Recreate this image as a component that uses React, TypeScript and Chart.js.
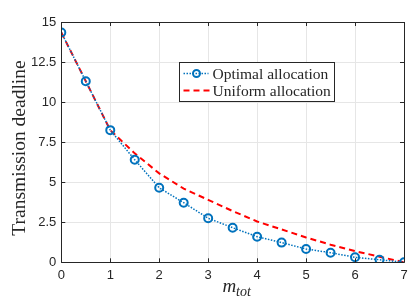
import React, { useEffect, useRef } from "react";
import { Chart, registerables } from "chart.js";

Chart.register(...registerables);

const xValues = [0, 0.5, 1, 1.5, 2, 2.5, 3, 3.5, 4, 4.5, 5, 5.5, 6, 6.5, 7];
const optimal = [14.35, 11.3, 8.25, 6.4, 4.65, 3.72, 2.75, 2.16, 1.6, 1.23, 0.83, 0.6, 0.31, 0.16, 0];
const uniform = [14.35, 11.3, 8.25, 6.8, 5.55, 4.6, 3.9, 3.2, 2.55, 2.05, 1.55, 1.1, 0.7, 0.35, 0];
const xTicks = [0, 1, 2, 3, 4, 5, 6, 7];
const yTicks = [0, 2.5, 5, 7.5, 10, 12.5, 15];
const seriesNames = ["Optimal allocation", "Uniform allocation"];
const yTitle = "Transmission deadline";
const xTitleMain = "m";
const xTitleSub = "tot";

const BLUE = "#0072BD";
const RED = "#FF0000";
const SERIF = "'Liberation Serif', 'DejaVu Serif', serif";
const SANS = "'Liberation Sans', Arial, sans-serif";

const decorPlugin = {
  id: "decor",
  afterDraw(chart: any) {
    const ctx = chart.ctx;
    const a = chart.chartArea;
    const xs = chart.scales.x;
    const ys = chart.scales.y;
    ctx.save();
    // box
    ctx.strokeStyle = "#262626";
    ctx.lineWidth = 1;
    ctx.beginPath();
    ctx.rect(Math.round(a.left) + 0.5, Math.round(a.top) + 0.5, Math.round(a.right - a.left), Math.round(a.bottom - a.top));
    ctx.stroke();
    // inward ticks
    ctx.beginPath();
    xTicks.forEach((t) => {
      const px = Math.round(xs.getPixelForValue(t)) + 0.5;
      ctx.moveTo(px, a.bottom);
      ctx.lineTo(px, a.bottom - 4);
      ctx.moveTo(px, a.top);
      ctx.lineTo(px, a.top + 4);
    });
    yTicks.forEach((t) => {
      const py = Math.round(ys.getPixelForValue(t)) + 0.5;
      ctx.moveTo(a.left, py);
      ctx.lineTo(a.left + 4, py);
      ctx.moveTo(a.right, py);
      ctx.lineTo(a.right - 4, py);
    });
    ctx.stroke();

    // y title
    ctx.fillStyle = "#262626";
    ctx.font = `19.5px ${SERIF}`;
    ctx.textAlign = "center";
    ctx.textBaseline = "alphabetic";
    ctx.save();
    ctx.translate(25, 148);
    ctx.rotate(-Math.PI / 2);
    ctx.fillText(yTitle, 0, 0);
    ctx.restore();

    // x title
    const cx = (a.left + a.right) / 2 + 4;
    ctx.font = `italic 19px ${SERIF}`;
    const mw = ctx.measureText(xTitleMain).width;
    ctx.font = `italic 14px ${SERIF}`;
    const sw = ctx.measureText(xTitleSub).width;
    const startX = cx - (mw + sw) / 2;
    ctx.textAlign = "left";
    ctx.textBaseline = "alphabetic";
    ctx.font = `italic 19px ${SERIF}`;
    ctx.fillText(xTitleMain, startX, 292);
    ctx.font = `italic 14px ${SERIF}`;
    ctx.fillText(xTitleSub, startX + mw, 296);

    // legend
    const lx = 179.5, ly = 62.5, lw = 155, lh = 39;
    ctx.fillStyle = "#ffffff";
    ctx.fillRect(lx, ly, lw, lh);
    ctx.strokeStyle = "#262626";
    ctx.lineWidth = 1;
    ctx.strokeRect(lx, ly, lw, lh);
    const rows = [ly + 11, ly + 28];
    // optimal sample
    ctx.strokeStyle = BLUE;
    ctx.lineWidth = 1.5;
    ctx.setLineDash([1.5, 1.5]);
    ctx.beginPath();
    ctx.moveTo(lx + 4, rows[0]);
    ctx.lineTo(lx + 29, rows[0]);
    ctx.stroke();
    ctx.setLineDash([]);
    ctx.lineWidth = 2;
    ctx.beginPath();
    ctx.arc(lx + 17, rows[0], 3.5, 0, Math.PI * 2);
    ctx.stroke();
    // uniform sample
    ctx.strokeStyle = RED;
    ctx.lineWidth = 2;
    ctx.setLineDash([6, 4]);
    ctx.beginPath();
    ctx.moveTo(lx + 4, rows[1]);
    ctx.lineTo(lx + 30, rows[1]);
    ctx.stroke();
    ctx.setLineDash([]);
    ctx.fillStyle = "#262626";
    ctx.font = `15.5px ${SERIF}`;
    ctx.textAlign = "left";
    ctx.textBaseline = "middle";
    ctx.fillText(seriesNames[0], lx + 33, rows[0] + 1);
    ctx.fillText(seriesNames[1], lx + 33, rows[1] + 1);
    ctx.restore();
  },
};

export default function App() {
  const ref = useRef<HTMLCanvasElement>(null);
  useEffect(() => {
    if (!ref.current) return;
    const chart = new Chart(ref.current, {
      type: "line",
      data: {
        datasets: [
          {
            label: seriesNames[1],
            data: xValues.map((x, i) => ({ x, y: uniform[i] })),
            borderColor: RED,
            borderWidth: 2,
            borderDash: [6, 4],
            pointRadius: 0,
            fill: false,
            order: 2,
          },
          {
            label: seriesNames[0],
            data: xValues.map((x, i) => ({ x, y: optimal[i] })),
            borderColor: BLUE,
            borderWidth: 1.5,
            borderDash: [1.5, 1.5],
            pointRadius: 4,
            pointBorderWidth: 2,
            pointBorderColor: BLUE,
            pointBackgroundColor: "rgba(0,0,0,0)",
            fill: false,
            order: 1,
          },
        ],
      },
      options: {
        animation: false,
        responsive: false,
        layout: { padding: { top: 22, right: 13, left: 0, bottom: 0 } },
        plugins: { legend: { display: false }, tooltip: { enabled: false } },
        scales: {
          x: {
            type: "linear",
            min: 0,
            max: 7,
            afterBuildTicks: (s: any) => {
              s.ticks = xTicks.map((v) => ({ value: v }));
            },
            afterFit: (s: any) => {
              s.height = 41.7;
            },
            grid: { color: "#e6e6e6", drawTicks: false },
            border: { display: false },
            ticks: {
              color: "#262626",
              font: { family: SANS, size: 13 },
              padding: 5,
              maxRotation: 0,
              callback: (v: any) => String(v),
            },
          },
          y: {
            type: "linear",
            min: 0,
            max: 15,
            afterBuildTicks: (s: any) => {
              s.ticks = yTicks.map((v) => ({ value: v }));
            },
            afterFit: (s: any) => {
              s.width = 61.3;
            },
            grid: { color: "#e6e6e6", drawTicks: false },
            border: { display: false },
            ticks: {
              color: "#262626",
              font: { family: SANS, size: 13 },
              padding: 5,
              callback: (v: any) => String(v),
            },
          },
        },
      },
      plugins: [decorPlugin],
    });
    return () => chart.destroy();
  }, []);
  return (
    <div style={{ position: "fixed", left: 0, top: 0, width: 417, height: 304, background: "#fff" }}>
      <canvas ref={ref} width={417} height={304} style={{ width: 417, height: 304 }} />
    </div>
  );
}
